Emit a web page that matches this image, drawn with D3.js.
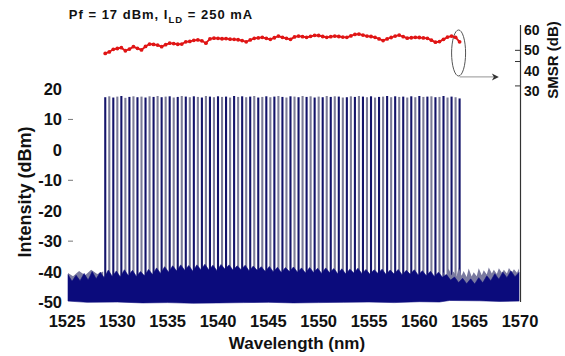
<!DOCTYPE html>
<html><head><meta charset="utf-8">
<script src="https://cdn.jsdelivr.net/npm/d3@7"></script>
<style>
html,body{margin:0;padding:0;background:#fff;}
svg{display:block;font-family:"Liberation Sans",Arial,sans-serif;font-weight:bold;}
</style></head>
<body><svg id="c" width="565" height="356"></svg>
<script>
// ---- data ----
const xTicks = [1525,1530,1535,1540,1545,1550,1555,1560,1565,1570];
const yTicks = [20,10,0,-10,-20,-30,-40,-50];
const yMinorTicks = [10,-10,-30];
const smsrLabels = [60,50,40,30];
const smsrTickMarks = [50,44.5,32.5];

const channelWl = [1528.8,1529.2,1529.6,1530.0,1530.4,1530.8,1531.2,1531.6,1532.0,1532.4,
1532.8,1533.2,1533.6,1534.0,1534.4,1534.8,1535.2,1535.6,1536.0,1536.4,
1536.8,1537.2,1537.6,1538.0,1538.4,1538.8,1539.2,1539.6,1540.0,1540.4,
1540.8,1541.2,1541.6,1542.0,1542.4,1542.8,1543.2,1543.6,1544.0,1544.4,
1544.8,1545.2,1545.6,1546.0,1546.4,1546.8,1547.2,1547.6,1548.0,1548.4,
1548.8,1549.2,1549.6,1550.0,1550.4,1550.8,1551.2,1551.6,1552.0,1552.4,
1552.8,1553.2,1553.6,1554.0,1554.4,1554.8,1555.2,1555.6,1556.0,1556.4,
1556.8,1557.2,1557.6,1558.0,1558.4,1558.8,1559.2,1559.6,1560.0,1560.4,
1560.8,1561.2,1561.6,1562.0,1562.4,1562.8,1563.2,1563.6,1564.0];

const channelPeak = [17.3,17.6,17.2,17.5,17.7,17.1,17.4,17.6,17.3,17.5,
17.2,17.6,17.4,17.7,17.3,17.5,17.6,17.2,17.4,17.7,
17.5,17.3,17.6,17.4,17.2,17.7,17.5,17.3,17.6,17.4,
17.5,17.2,17.7,17.4,17.6,17.3,17.5,17.7,17.2,17.4,
17.6,17.3,17.5,17.7,17.4,17.2,17.6,17.5,17.3,17.7,
17.4,17.6,17.2,17.5,17.3,17.7,17.4,17.6,17.5,17.2,
17.3,17.6,17.4,17.7,17.5,17.3,17.6,17.2,17.4,17.5,
17.7,17.3,17.6,17.4,17.5,17.2,17.6,17.3,17.7,17.4,
17.5,17.6,17.3,17.4,17.7,17.2,17.5,17.3,16.9];

const channelSmsr = [48.5,49.2,50.5,50.9,51.3,49.8,50.6,51.8,51.0,50.2,
51.9,53.1,52.9,52.6,51.8,52.8,53.5,53.3,53.0,53.1,
54.2,54.4,54.9,55.1,54.7,53.5,55.6,56.0,55.9,55.7,
55.8,55.5,55.4,55.2,54.8,54.2,55.1,55.9,56.1,56.4,
55.9,55.4,56.2,57.0,56.4,55.9,55.4,56.6,57.0,56.7,
56.4,56.9,57.4,57.3,56.8,56.4,56.7,57.0,56.8,56.5,
56.4,57.1,57.8,58.0,57.5,57.0,56.8,56.4,55.6,54.8,
55.6,56.3,57.0,57.5,56.7,56.0,56.2,56.4,56.3,56.1,
55.9,55.0,54.0,54.3,55.4,56.5,57.0,56.4,54.2];

// noise floor upper edge [wavelength, dBm]
const noiseTop = [[1525.1,-41.0],[1525.5,-43.2],[1525.9,-41.2],[1526.3,-43.0],[1526.7,-40.6],[1527.1,-42.8],[1527.5,-40.0],[1527.9,-42.4],
[1528.3,-40.2],[1528.7,-42.0],[1529.1,-39.5],[1529.5,-41.6],[1529.9,-39.8],[1530.3,-41.8],[1530.7,-39.4],[1531.1,-41.4],
[1531.5,-39.6],[1531.9,-41.6],[1532.3,-40.0],[1532.7,-41.4],[1533.1,-39.3],[1533.5,-41.0],[1533.9,-38.8],[1534.3,-40.6],
[1534.7,-38.4],[1535.1,-40.2],[1535.5,-38.1],[1535.9,-39.8],[1536.3,-37.8],[1536.7,-39.6],[1537.1,-38.0],[1537.5,-39.9],
[1537.9,-37.8],[1538.3,-39.4],[1538.7,-37.6],[1539.1,-39.5],[1539.5,-37.9],[1539.9,-39.7],[1540.3,-37.7],[1540.7,-39.2],
[1541.1,-37.8],[1541.5,-39.6],[1541.9,-38.1],[1542.3,-39.4],[1542.7,-37.9],[1543.1,-39.8],[1543.5,-38.2],[1543.9,-39.6],
[1544.3,-38.4],[1544.7,-40.0],[1545.1,-38.3],[1545.5,-40.1],[1545.9,-38.6],[1546.3,-40.3],[1546.7,-38.7],[1547.1,-40.0],
[1547.5,-38.5],[1547.9,-40.2],[1548.3,-38.8],[1548.7,-40.5],[1549.1,-38.7],[1549.5,-40.3],[1549.9,-38.9],[1550.3,-40.6],
[1550.7,-38.8],[1551.1,-40.4],[1551.5,-39.0],[1551.9,-40.7],[1552.3,-39.1],[1552.7,-40.8],[1553.1,-39.2],[1553.5,-40.5],
[1553.9,-38.9],[1554.3,-40.7],[1554.7,-39.3],[1555.1,-40.9],[1555.5,-39.4],[1555.9,-40.6],[1556.3,-39.2],[1556.7,-41.0],
[1557.1,-39.5],[1557.5,-40.8],[1557.9,-39.3],[1558.3,-41.1],[1558.7,-39.6],[1559.1,-40.9],[1559.5,-39.4],[1559.9,-41.2],
[1560.3,-39.7],[1560.7,-41.4],[1561.1,-39.9],[1561.5,-41.6],[1561.9,-40.2],[1562.3,-41.9],[1562.7,-41.0],[1563.1,-42.8],
[1563.5,-41.8],[1563.9,-43.6],[1564.3,-42.2],[1564.7,-44.0],[1565.1,-42.4],[1565.5,-44.1],[1565.9,-42.0],[1566.3,-43.7],
[1566.7,-41.4],[1567.1,-43.0],[1567.5,-40.7],[1567.9,-42.5],[1568.3,-40.2],[1568.7,-42.0],[1569.1,-39.8],[1569.5,-41.7],[1569.9,-40.3]];

// noise floor lower edge [wavelength, dBm]
const noiseBottom = [[1525.1,-49.7],[1527.0,-50.1],[1530.0,-50.0],[1532.5,-50.3],[1535.0,-50.2],[1537.5,-50.4],[1540.0,-50.3],
[1542.5,-50.2],[1545.0,-50.1],[1547.5,-50.3],[1550.0,-50.2],[1552.5,-50.1],[1555.0,-50.0],[1557.5,-50.2],[1560.0,-49.9],
[1562.0,-50.0],[1563.0,-49.5],[1566.0,-49.6],[1568.0,-49.8],[1569.9,-49.7]];

// lighter (grey) noise traces sticking out above the dark floor
const greyNoiseTop = [[1525.1,-40.5],[1525.6,-41.5],[1526.2,-39.8],[1526.8,-41.2],[1527.4,-39.4],[1528.0,-40.8],[1528.6,-40.0],
[1562.4,-40.2],[1562.7,-41.4],[1562.9,-39.0],[1563.2,-41.2],[1563.4,-40.0],[1563.7,-41.6],[1563.9,-38.6],[1564.2,-41.4],
[1564.4,-39.8],[1564.7,-41.8],[1564.9,-39.0],[1565.2,-41.6],[1565.4,-40.2],[1565.7,-41.5],[1565.9,-38.9],[1566.2,-41.2],
[1566.4,-39.6],[1566.7,-41.0],[1566.9,-38.7],[1567.2,-40.6],[1567.4,-39.4],[1567.7,-40.8],[1567.9,-38.9],[1568.2,-40.4],
[1568.4,-39.4],[1568.7,-40.6],[1568.9,-38.8],[1569.2,-40.2],[1569.4,-39.2],[1569.7,-40.4],[1569.9,-39.0]];

// ---- drawing ----
const svg = d3.select("#c");
const x = d3.scaleLinear().domain([1525,1570]).range([67,520]);
const y = d3.scaleLinear().domain([-50,20]).range([302,89]);
const yS = d3.scaleLinear().domain([30,60]).range([91,30]);

// channel lines
const chans = channelWl.map((w,i)=>({w, p:channelPeak[i], s:channelSmsr[i], i}));
svg.append("g").selectAll("line").data(chans).join("line")
  .attr("x1",d=>x(d.w)).attr("x2",d=>x(d.w))
  .attr("y1",y(-47)).attr("y2",d=>y(d.p))
  .attr("stroke",d=>d.i%2? "#7c7c98" : "#14146a")
  .attr("stroke-width",2.1);

// grey noise (behind)
const lineGen = d3.line().x(d=>x(d[0])).y(d=>y(d[1]));
const greyLeft = greyNoiseTop.filter(d=>d[0]<1550);
const greyRight = greyNoiseTop.filter(d=>d[0]>1550);
[greyLeft, greyRight].forEach(arr=>{
  const poly = arr.concat([[arr[arr.length-1][0],-46],[arr[0][0],-46]]);
  svg.append("path").attr("d",lineGen(poly)+"Z").attr("fill","#7a7aa0").attr("stroke","none");
});

// dark noise floor
const poly = noiseTop.concat(noiseBottom.slice().reverse());
svg.append("path").attr("d",lineGen(poly)+"Z")
  .attr("fill","#0b0b7c").attr("stroke","#0b0b7c").attr("stroke-width",0.6);

// right axis line
svg.append("line").attr("x1",x(1570)+0.5).attr("x2",x(1570)+0.5)
  .attr("y1",yS(62.5)).attr("y2",y(-50)).attr("stroke","#333").attr("stroke-width",1.2);

// left tick labels
svg.append("g").selectAll("text").data(yTicks).join("text")
  .attr("x",62).attr("y",d=>y(d)).attr("dy","0.36em")
  .attr("text-anchor","end").attr("font-size",16.5).attr("fill","#111").text(d=>d);
svg.append("g").selectAll("line").data(yMinorTicks).join("line")
  .attr("x1",68).attr("x2",73).attr("y1",d=>y(d)).attr("y2",d=>y(d))
  .attr("stroke","#777").attr("stroke-width",1);

// bottom tick labels
svg.append("g").selectAll("text").data(xTicks).join("text")
  .attr("x",d=>x(d)).attr("y",327).attr("text-anchor","middle")
  .attr("font-size",16.5).attr("fill","#111").text(d=>d);

// axis titles
svg.append("text").attr("x",297).attr("y",349).attr("text-anchor","middle")
  .attr("font-size",17).attr("fill","#111").text("Wavelength (nm)");
svg.append("text").attr("transform","translate(31,192) rotate(-90)")
  .attr("text-anchor","middle").attr("font-size",18).attr("fill","#111").text("Intensity (dBm)");

// SMSR axis
svg.append("g").selectAll("text").data(smsrLabels).join("text")
  .attr("x",524).attr("y",d=>yS(d)).attr("dy","0.36em")
  .attr("font-size",14).attr("fill","#111").text(d=>d);
svg.append("g").selectAll("line").data(smsrTickMarks).join("line")
  .attr("x1",515).attr("x2",520.5).attr("y1",d=>yS(d)).attr("y2",d=>yS(d))
  .attr("stroke","#333").attr("stroke-width",1);
svg.append("text").attr("transform","translate(558,60) rotate(-90)")
  .attr("text-anchor","middle").attr("font-size",15).attr("fill","#111").text("SMSR (dB)");

// annotation ellipse + arrow
svg.append("ellipse").attr("cx",x(1563.9)).attr("cy",yS(48.7)).attr("rx",7).attr("ry",23)
  .attr("fill","none").attr("stroke","#555").attr("stroke-width",1);
svg.append("line").attr("x1",x(1564.0)).attr("x2",x(1567.4)).attr("y1",yS(36.9)).attr("y2",yS(36.9))
  .attr("stroke","#aaa").attr("stroke-width",1.3);
const ax = x(1567.9), ay = yS(36.9);
svg.append("path").attr("d",`M${ax},${ay} L${ax-7},${ay-3.5} L${ax-5},${ay} L${ax-7},${ay+3.5} Z`).attr("fill","#333");

// SMSR red series
svg.append("path").datum(chans)
  .attr("d",d3.line().x(d=>x(d.w)).y(d=>yS(d.s)))
  .attr("fill","none").attr("stroke","#e01515").attr("stroke-width",1.8);
svg.append("g").selectAll("circle").data(chans).join("circle")
  .attr("cx",d=>x(d.w)).attr("cy",d=>yS(d.s)).attr("r",1.9).attr("fill","#e01515");

// title
const t = svg.append("text").attr("x",161).attr("y",19).attr("text-anchor","middle")
  .attr("font-size",13).attr("letter-spacing",1).attr("fill","#111");
t.append("tspan").text("Pf = 17 dBm, I");
t.append("tspan").attr("font-size",9.5).attr("dy",4).text("LD");
t.append("tspan").attr("dy",-4).text(" = 250 mA");
</script></body></html>
